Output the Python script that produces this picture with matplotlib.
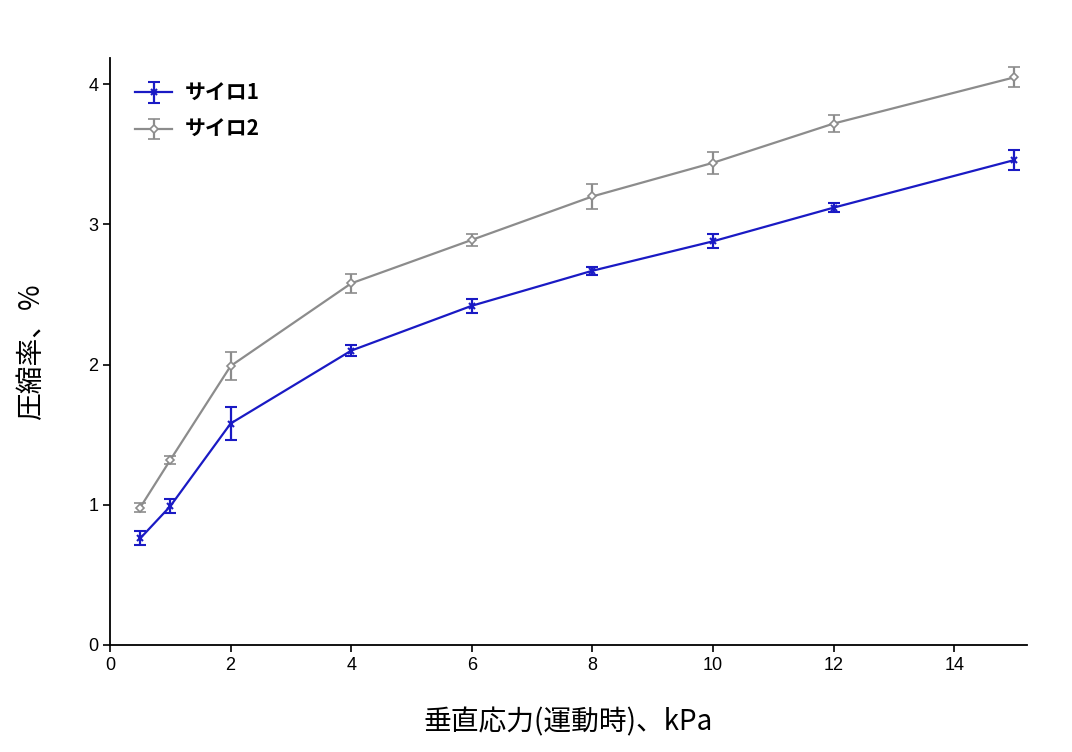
import matplotlib
matplotlib.use("Agg")
import matplotlib.pyplot as plt

plt.rcParams["font.family"] = ["Liberation Sans", "Noto Sans CJK JP", "DejaVu Sans"]

# data
stress = [0.5, 1, 2, 4, 6, 8, 10, 12, 15]
silo1 = [0.76, 0.99, 1.58, 2.10, 2.42, 2.67, 2.88, 3.12, 3.46]
silo1_err = [0.05, 0.05, 0.12, 0.04, 0.05, 0.03, 0.05, 0.03, 0.07]
silo2 = [0.98, 1.32, 1.99, 2.58, 2.89, 3.20, 3.44, 3.72, 4.05]
silo2_err = [0.03, 0.03, 0.10, 0.07, 0.04, 0.09, 0.08, 0.06, 0.07]

fig = plt.figure(figsize=(10.72, 7.52), dpi=100)
ax = fig.add_axes([0.1026, 0.1423, 0.855, 0.781])

ax.errorbar(stress, silo1, yerr=silo1_err, color="#1a1ac4", marker="x",
            markersize=5, markeredgewidth=1.5, linewidth=1.6, capsize=4.5,
            elinewidth=1.6, capthick=1.6, label="サイロ1")
ax.errorbar(stress, silo2, yerr=silo2_err, color="#8c8c8c", marker="D",
            markersize=4, markerfacecolor="white", markeredgewidth=1.2,
            linewidth=1.6, capsize=4.5, elinewidth=1.6, capthick=1.6,
            label="サイロ2")

ax.set_xlim(0, 15.2)
ax.set_ylim(0, 4.19)
ax.set_xticks(range(0, 15, 2))
ax.set_yticks(range(0, 5))
ax.spines["top"].set_visible(False)
ax.spines["right"].set_visible(False)
ax.spines["left"].set_linewidth(1.3)
ax.spines["bottom"].set_linewidth(1.3)
ax.tick_params(labelsize=13, length=5, width=1.2)

ax.set_xlabel("垂直応力(運動時)、kPa", fontsize=20, labelpad=24,
              family=["Noto Sans CJK JP", "DejaVu Sans"])
ax.set_ylabel("圧縮率、%", fontsize=20, labelpad=30,
              family=["Noto Sans CJK JP", "DejaVu Sans"])

leg = ax.legend(loc="upper left", frameon=False,
                prop={"family": ["Noto Sans CJK JP", "DejaVu Sans"],
                      "weight": "bold", "size": 15},
                handlelength=1.8, handletextpad=0.6, labelspacing=0.75,
                borderaxespad=0.8)

fig.savefig("out.png", dpi=100)
